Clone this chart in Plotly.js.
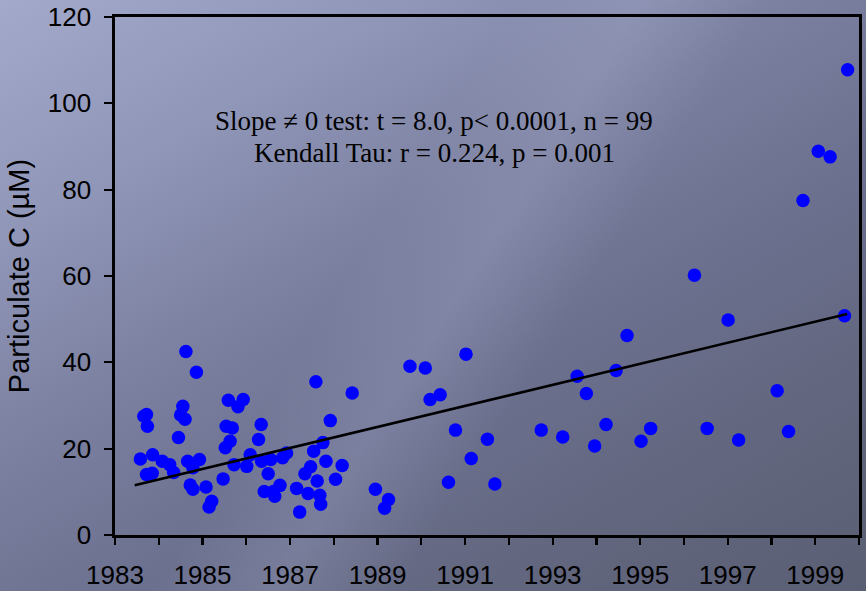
<!DOCTYPE html>
<html>
<head>
<meta charset="utf-8">
<script src="https://cdn.plot.ly/plotly-3.0.1.min.js"></script>
<style>
  html, body { margin: 0; padding: 0; }
  body {
    width: 866px; height: 591px; overflow: hidden;
    background:
      linear-gradient(122deg, rgba(255,255,255,0) 42%, rgba(190,196,230,0.18) 52%, rgba(255,255,255,0) 62%),
      linear-gradient(150deg, #a3a9cb 0%, #9096b8 22%, #7b80a0 42%, #6c7190 60%, #62667e 80%, #5b5f74 100%);
  }
  #chart { width: 866px; height: 591px; }
</style>
</head>
<body>
<div id="chart"></div>
<script>
// Sampling date (decimal year) and particulate carbon concentration (µM)
const years = [
  1983.58, 1983.66, 1983.72, 1983.74, 1983.86, 1983.72, 1983.85, 1984.08, 1984.25, 1984.34,
  1984.45, 1984.55, 1984.50, 1984.60, 1984.62, 1984.86, 1984.66, 1984.78, 1984.93, 1984.72,
  1984.78, 1985.08, 1985.21, 1985.15, 1985.47, 1985.59, 1985.93, 1985.81, 1985.54, 1985.68,
  1985.63, 1985.52, 1985.72, 1986.01, 1986.09, 1986.34, 1986.28, 1986.35, 1986.56, 1986.50,
  1986.83, 1986.92, 1986.41, 1986.62, 1986.65, 1986.77, 1987.15, 1987.22, 1987.34, 1987.47,
  1987.62, 1987.41, 1987.68, 1987.70, 1987.59, 1987.54, 1987.75, 1987.82, 1987.92, 1988.19,
  1988.04, 1988.42, 1988.95, 1989.25, 1989.16, 1989.74, 1990.09, 1991.02, 1990.20, 1990.43,
  1990.78, 1990.62, 1991.14, 1991.51, 1991.68, 1992.74, 1993.23, 1993.56, 1993.77, 1993.96,
  1994.22, 1994.45, 1994.70, 1995.02, 1995.24, 1996.24, 1996.53, 1997.01, 1997.25, 1998.13,
  1998.39, 1999.67, 1999.74, 1999.07, 1999.34, 1998.72
];
const carbon = [
  17.6, 27.5, 27.9, 25.2, 18.6, 14.0, 14.3, 17.1, 16.3, 14.5,
  22.6, 29.8, 27.8, 26.8, 42.5, 37.7, 17.1, 15.6, 17.5, 11.6,
  10.6, 11.1, 7.8, 6.5, 13.0, 31.2, 31.4, 29.7, 25.2, 24.8,
  21.7, 20.2, 16.3, 15.9, 18.6, 25.6, 22.1, 17.1, 17.5, 14.2,
  17.9, 19.0, 10.1, 10.1, 9.0, 11.5, 10.8, 5.3, 14.2, 15.8,
  12.5, 9.6, 9.2, 7.1, 35.5, 19.4, 21.4, 17.1, 26.5, 16.1,
  12.9, 32.9, 10.6, 8.2, 6.2, 39.1, 38.7, 41.9, 31.4, 32.5,
  24.3, 12.2, 17.7, 22.2, 11.8, 24.3, 22.7, 36.8, 32.8, 20.6,
  25.6, 38.1, 46.2, 21.7, 24.7, 60.2, 24.7, 49.8, 22.0, 33.4,
  24.0, 50.8, 107.8, 88.9, 87.6, 77.5
];

// Fitted linear trend (end points)
const trendX = [1983.45, 1999.73];
const trendY = [11.5, 51.2];

// Axis labelling
const xTickVals = [1983,1984,1985,1986,1987,1988,1989,1990,1991,1992,1993,1994,1995,1996,1997,1998,1999,2000];
const xTickText = ['1983','','1985','','1987','','1989','','1991','','1993','','1995','','1997','','1999',''];
const yTickVals = [0, 20, 40, 60, 80, 100, 120];

const statsLine1 = 'Slope \u2260 0 test: t = 8.0, p< 0.0001, n = 99';
const statsLine2 = 'Kendall Tau: r = 0.224, p = 0.001';

const traces = [
  {
    x: years, y: carbon, type: 'scatter', mode: 'markers',
    marker: { color: '#0000ff', size: 13.5, line: { width: 0 } },
    hoverinfo: 'x+y'
  },
  {
    x: trendX, y: trendY, type: 'scatter', mode: 'lines',
    line: { color: '#000000', width: 2.6 },
    hoverinfo: 'skip'
  }
];

const axisCommon = {
  showline: true, linecolor: '#000000', linewidth: 2.6, mirror: true,
  showgrid: false, zeroline: false,
  ticks: 'outside', tickcolor: '#000000', tickwidth: 2.2,
  tickfont: { family: 'Liberation Sans, Arial, sans-serif', size: 26, color: '#000000' }
};

const layout = {
  width: 866, height: 591,
  margin: { l: 115, r: 7, t: 17, b: 56, pad: 0 },
  paper_bgcolor: 'rgba(0,0,0,0)',
  plot_bgcolor: 'rgba(0,0,0,0)',
  showlegend: false,
  font: { family: 'Liberation Sans, Arial, sans-serif', color: '#000000' },
  xaxis: Object.assign({}, axisCommon, {
    range: [1983, 2000], tickmode: 'array', tickvals: xTickVals, ticktext: xTickText,
    ticklen: 7, ticklabelstandoff: 8
  }),
  yaxis: Object.assign({}, axisCommon, {
    range: [0, 120], tickmode: 'array', tickvals: yTickVals,
    ticklen: 8, ticklabelstandoff: 8,
    title: { text: 'Particulate C (\u00b5M)', font: { size: 29, family: 'Liberation Sans, Arial, sans-serif', color: '#000000' }, standoff: 10 }
  }),
  annotations: [
    { x: 1990.30, y: 95.9, xref: 'x', yref: 'y', text: statsLine1, showarrow: false,
      font: { family: 'Liberation Serif, Times New Roman, serif', size: 27, color: '#000000' } },
    { x: 1990.30, y: 88.6, xref: 'x', yref: 'y', text: statsLine2, showarrow: false,
      font: { family: 'Liberation Serif, Times New Roman, serif', size: 27, color: '#000000' } }
  ]
};

Plotly.newPlot('chart', traces, layout, { displayModeBar: false, staticPlot: true });
</script>
</body>
</html>
